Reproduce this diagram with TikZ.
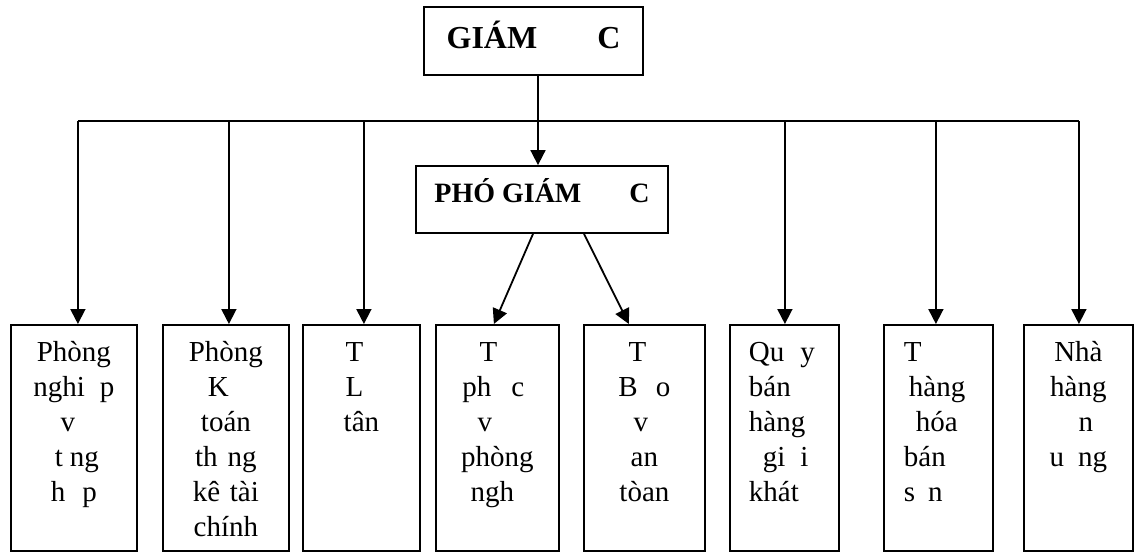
\documentclass[tikz,border=0pt]{standalone}
\usepackage{fontspec}
\setmainfont{Liberation Serif}
\usetikzlibrary{arrows.meta}
\newcommand{\gapw}[1]{\rule{#1}{0pt}}
\tikzset{
  arr/.style={-{Triangle[length=7.5pt,width=7.5pt]}},
  head/.style={draw, inner sep=0pt},
  dept/.style={draw, anchor=north west, inner sep=0pt, text height=18.5pt, text depth=94.5pt,
    align=center, font=\fontsize{14.5}{17.5}\selectfont},
  deptl/.style={dept, align=left}
}

\begin{document}
\begin{tikzpicture}[x=0.5pt, y=-0.5pt, line width=0.9pt]
	\useasboundingbox (0,0) rectangle (1134,551);
	\node[head, minimum width=109.5pt, minimum height=34pt, text height=12pt, text depth=4pt,
		font=\bfseries\fontsize{16}{19}\selectfont] (gd) at (533.5,41) {GIÁM\hspace{30pt}C};
	\node[head, minimum width=126pt, minimum height=33.5pt, text height=10pt, text depth=7pt,
		font=\bfseries\fontsize{14}{17}\selectfont] (pgd) at (542,199.5) {PHÓ GIÁM\hspace{24pt}C};
	\node[dept, text width=63pt] (b1) at (10,324) {Phòng\\nghi\hspace{7.5pt}p\\v\gapw{6pt}\\\gapw{3pt}t\hspace{3.5pt}ng\\h\hspace{8.5pt}p};
	\node[dept, text width=63pt] (b2) at (162,324) {Phòng\\K\gapw{7.5pt}\\toán\\th\hspace{5pt}ng\\kê tài\\chính};
	\node[dept, text width=58.5pt] (b3) at (302,324) {T\gapw{7pt}\\L\gapw{7pt}\\tân};
	\node[dept, text width=61.5pt] (b4) at (435,324) {T\gapw{9pt}\\ph\hspace{10pt}c\gapw{4pt}\\v\gapw{12.5pt}\\phòng\\ngh\gapw{5pt}};
	\node[dept, text width=60.5pt] (b5) at (583,324) {T\gapw{7pt}\\B\hspace{9pt}o\\v\gapw{3.5pt}\\an\\tòan};
	\node[deptl, inner xsep=9.5pt, text width=35.5pt] (b6) at (729,324) {Qu\hspace{8pt}y\\bán\\hàng\\\gapw{7pt}gi\hspace{7.5pt}i\\khát};
	\node[deptl, inner xsep=10pt, text width=34.5pt] (b7) at (883,324) {T\\\gapw{2.5pt}hàng\\\gapw{6pt}hóa\\bán\\s\hspace{6.5pt}n};
	\node[dept, text width=54.5pt] (b8) at (1023,324) {Nhà\\hàng\\\gapw{7.5pt}n\\u\hspace{7pt}ng};

	\coordinate (bus) at (0,121);
	\draw[arr] ([xshift=2.25pt]gd.south) -- ([xshift=-2pt]pgd.north);
	\draw ([xshift=2pt]b1.north |- bus) -- ([xshift=0.25pt]b8.north |- bus);
	\foreach \b/\dx in {b1/2pt,b2/1.5pt,b3/1.25pt,b6/0.25pt,b7/-1.25pt,b8/0.25pt}
		\draw[arr] ([xshift=\dx]\b.north |- bus) -- ([xshift=\dx]\b.north);
	\draw[arr] ([xshift=-4.5pt]pgd.south) -- ([xshift=-1.75pt]b4.north);
	\draw[arr] ([xshift=21pt]pgd.south) -- ([xshift=-7.75pt]b5.north);
\end{tikzpicture}
\end{document}
